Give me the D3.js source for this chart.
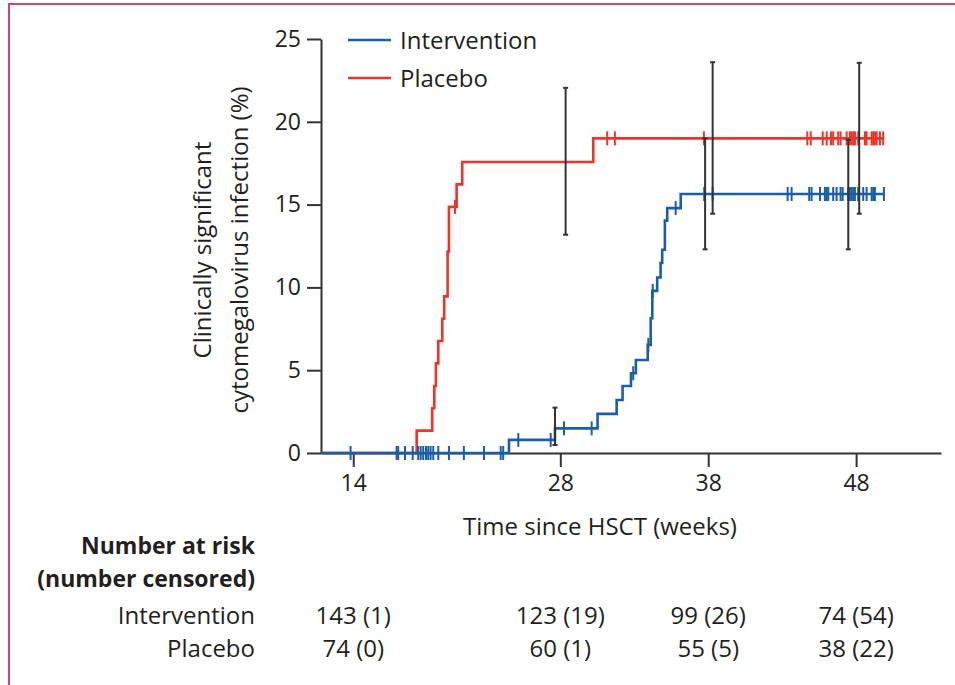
<!DOCTYPE html>
<html>
<head>
<meta charset="utf-8">
<script src="https://cdn.jsdelivr.net/npm/d3@7"></script>
<style>
  html, body { margin: 0; padding: 0; background: #fff; }
  svg { display: block; font-family: "Open Sans", "DejaVu Sans", sans-serif; }
</style>
</head>
<body>
<svg id="chart" width="955" height="685"></svg>
<script>
// ---------------- DATA ----------------
const xTicks = [14, 28, 38, 48];
const yTicks = [0, 5, 10, 15, 20, 25];
const followUpEnd = 49.88;

// Placebo step function (event times in weeks, cumulative %)
const placeboTimes  = [18.29, 19.34, 19.48, 19.59, 19.75, 20.02, 20.15, 20.38, 20.47, 20.99, 21.37, 30.23];
const placeboValues = [1.35, 2.70, 4.05, 5.41, 6.76, 8.11, 9.46, 12.16, 14.86, 16.22, 17.57, 19.0];
const placeboCensor = [20.88, 31.17, 31.69, 37.71, 44.70, 44.93, 45.74, 46.01, 46.30, 46.45, 46.79, 46.95,
                       47.36, 47.58, 47.70, 47.81, 47.92, 48.14, 48.60, 48.71, 49.05, 49.16, 49.27, 49.39,
                       49.61, 49.83];

// Intervention step function
const interventionTimes  = [24.53, 27.64, 30.52, 31.81, 32.21, 32.78, 33.11, 33.91, 34.11, 34.22, 34.55,
                            34.78, 34.89, 35.07, 35.23, 36.14];
const interventionValues = [0.79, 1.49, 2.36, 3.20, 4.05, 4.82, 5.62, 6.53, 8.14, 9.79, 10.60,
                            11.47, 12.27, 14.03, 14.79, 15.64];
const interventionCensor = [13.82, 16.93, 17.04, 17.50, 18.02, 18.39, 18.56, 18.73, 18.92, 19.07, 19.23,
                            19.41, 19.75, 20.47, 21.48, 22.84, 23.97, 24.14, 25.16, 27.35, 28.25, 30.12,
                            32.93, 33.95, 34.25, 35.80, 37.73, 38.30, 43.37, 43.64, 44.83, 44.99, 45.56,
                            45.89, 46.01, 46.12, 46.45, 46.68, 46.95, 47.09, 47.47, 47.58, 47.70, 47.81,
                            47.92, 48.14, 48.48, 48.71, 49.05, 49.16, 49.27, 49.88];

// 95% CI bars
const placeboCITimes = [28.36, 38.30, 48.21];
const placeboCILow   = [13.18, 14.45, 14.45];
const placeboCIHigh  = [22.05, 23.60, 23.56];
const interventionCITimes = [27.64, 37.79, 47.47];
const interventionCILow   = [0.48, 12.30, 12.30];
const interventionCIHigh  = [2.74, 19.00, 18.92];

// Number at risk (number censored)
const riskTimes = [14, 28, 38, 48];
const interventionAtRisk  = [143, 123, 99, 74];
const interventionCensored = [1, 19, 26, 54];
const placeboAtRisk  = [74, 60, 55, 38];
const placeboCensored = [0, 1, 5, 22];

const seriesNames = ["Intervention", "Placebo"];

// ---------------- STYLE ----------------
const BLUE = "#1b5ea7";
const RED = "#ee3428";
const INK = "#231f20";
const AXIS = "#333333";

const svg = d3.select("#chart");

const x = d3.scaleLinear().domain([11.82, 53.74]).range([321, 941]);
const y = d3.scaleLinear().domain([0, 25]).range([453, 39]);

// Frame (pink border)
svg.append("path")
  .attr("d", "M9,690 L9,4 L960,4")
  .attr("fill", "none")
  .attr("stroke", "#d8407a")
  .attr("stroke-width", 2);

// Axes
const yAxis = svg.append("g")
  .attr("transform", `translate(${x.range()[0]},0)`)
  .call(d3.axisLeft(y).tickValues(yTicks).tickSize(14).tickSizeOuter(0).tickPadding(6));
const xAxis = svg.append("g")
  .attr("transform", `translate(0,${y(0)})`)
  .call(d3.axisBottom(x).tickValues(xTicks).tickSize(14).tickSizeOuter(0).tickPadding(8));

[xAxis, yAxis].forEach(g => {
  g.select(".domain").attr("stroke", AXIS).attr("stroke-width", 2);
  g.selectAll(".tick line").attr("stroke", AXIS).attr("stroke-width", 2);
  g.selectAll(".tick text").attr("fill", INK).style("font-size", "23px")
    .style("font-family", "'Open Sans', sans-serif");
});

// Step curves
function stepData(times, values) {
  const pts = [{ t: x.domain()[0], v: 0 }];
  times.forEach((t, i) => pts.push({ t, v: values[i] }));
  pts.push({ t: followUpEnd, v: values[values.length - 1] });
  return pts;
}
function valueAt(times, values, t) {
  const i = d3.bisectRight(times, t);
  return i === 0 ? 0 : values[i - 1];
}
const line = d3.line().x(d => x(d.t)).y(d => y(d.v)).curve(d3.curveStepAfter);

function drawSeries(times, values, censor, color) {
  svg.append("path")
    .datum(stepData(times, values))
    .attr("d", line)
    .attr("fill", "none")
    .attr("stroke", color)
    .attr("stroke-width", 2.6);
  svg.append("g").selectAll("line")
    .data(censor)
    .join("line")
    .attr("x1", d => x(d)).attr("x2", d => x(d))
    .attr("y1", d => y(valueAt(times, values, d)) - 7)
    .attr("y2", d => y(valueAt(times, values, d)) + 7)
    .attr("stroke", color)
    .attr("stroke-width", 2);
}
drawSeries(placeboTimes, placeboValues, placeboCensor, RED);
drawSeries(interventionTimes, interventionValues, interventionCensor, BLUE);

// CI bars
function drawCI(times, lo, hi) {
  const g = svg.append("g").attr("stroke", AXIS).attr("stroke-width", 2);
  times.forEach((t, i) => {
    g.append("line").attr("x1", x(t)).attr("x2", x(t)).attr("y1", y(hi[i])).attr("y2", y(lo[i]));
    g.append("line").attr("x1", x(t) - 2.5).attr("x2", x(t) + 2.5).attr("y1", y(hi[i])).attr("y2", y(hi[i]));
    g.append("line").attr("x1", x(t) - 2.5).attr("x2", x(t) + 2.5).attr("y1", y(lo[i])).attr("y2", y(lo[i]));
  });
}
drawCI(interventionCITimes, interventionCILow, interventionCIHigh);
drawCI(placeboCITimes, placeboCILow, placeboCIHigh);

// Legend
const legend = svg.append("g");
[[seriesNames[0], BLUE, 40], [seriesNames[1], RED, 78]].forEach(([name, color, ly]) => {
  legend.append("line").attr("x1", 348).attr("x2", 391).attr("y1", ly).attr("y2", ly)
    .attr("stroke", color).attr("stroke-width", 2.6);
  legend.append("text").attr("x", 400).attr("y", ly + 8.5)
    .attr("fill", INK).style("font-size", "24px").text(name);
});

// Axis titles
svg.append("text")
  .attr("x", 600).attr("y", 535)
  .attr("text-anchor", "middle")
  .attr("fill", INK).style("font-size", "24px")
  .text("Time since HSCT (weeks)");

svg.append("text")
  .attr("transform", "translate(211,250) rotate(-90)")
  .attr("text-anchor", "middle")
  .attr("fill", INK).style("font-size", "24px")
  .text("Clinically significant");
svg.append("text")
  .attr("transform", "translate(248,250) rotate(-90)")
  .attr("text-anchor", "middle")
  .attr("fill", INK).style("font-size", "24px")
  .text("cytomegalovirus infection (%)");

// Number at risk table
svg.append("text").attr("x", 255).attr("y", 554).attr("text-anchor", "end")
  .attr("fill", INK).style("font-size", "23px").style("font-weight", "700")
  .text("Number at risk");
svg.append("text").attr("x", 255).attr("y", 587).attr("text-anchor", "end")
  .attr("fill", INK).style("font-size", "23px").style("font-weight", "700")
  .text("(number censored)");

[[seriesNames[0], interventionAtRisk, interventionCensored, 624],
 [seriesNames[1], placeboAtRisk, placeboCensored, 657]].forEach(([name, risk, cens, ry]) => {
  svg.append("text").attr("x", 255).attr("y", ry).attr("text-anchor", "end")
    .attr("fill", INK).style("font-size", "24px").text(name);
  svg.append("g").selectAll("text")
    .data(riskTimes)
    .join("text")
    .attr("x", d => x(d))
    .attr("y", ry)
    .attr("text-anchor", "middle")
    .attr("fill", INK).style("font-size", "24px")
    .text((d, i) => `${risk[i]} (${cens[i]})`);
});
</script>
</body>
</html>
